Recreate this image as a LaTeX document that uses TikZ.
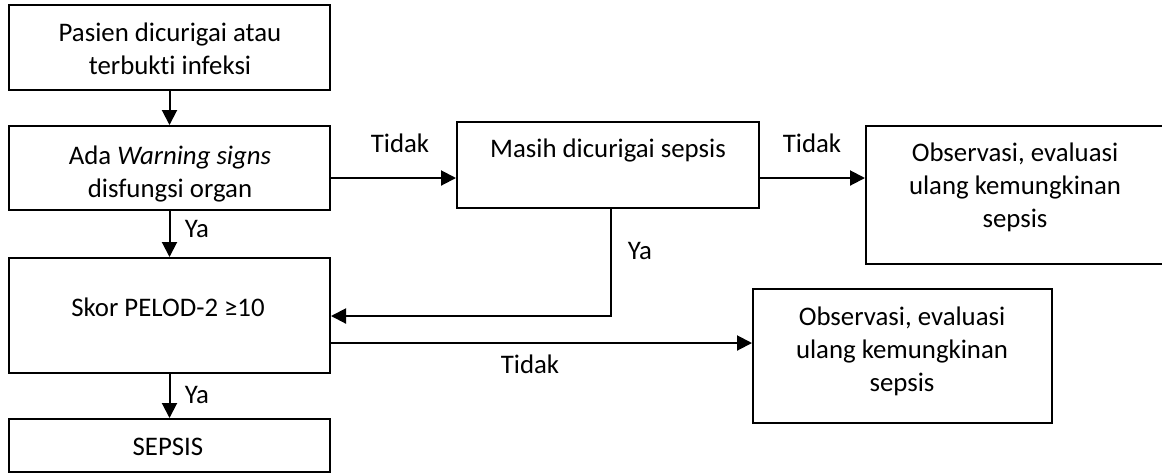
\documentclass[tikz,border=0pt]{standalone}
\usepackage{fontspec}
\setmainfont{Carlito}[Ligatures=NoCommon]
\usetikzlibrary{fit,arrows.meta}

\begin{document}
\begin{tikzpicture}
  [x=0.5pt,y=-0.5pt,
   every node/.style={font=\fontsize{13.4}{16.5}\selectfont},
   box/.style={draw,line width=1pt,inner sep=0pt},
   txt/.style={align=center,inner sep=1pt},
   arr/.style={line width=1pt,-{Triangle[length=7.5pt,width=7.5pt]}}]
  \useasboundingbox (0,0) rectangle (1162,473);
  % boxes
  \node[box,fit={(9,5) (330,90)}] (b1) {};
  \node[box,fit={(9,126) (330,210)}] (b2) {};
  \node[box,fit={(457,122) (759,208)}] (b3) {};
  \node[box,fit={(866,126) (1165,264)}] (b4) {};
  \node[box,fit={(9,258) (330,373)}] (b5) {};
  \node[box,fit={(753,289) (1052,423)}] (b6) {};
  \node[box,fit={(9,419) (330,472)}] (b7) {};
  % texts
  \node[txt] (t1) at (170,49) {Pasien dicurigai atau\\terbukti infeksi};
  \node[txt] (t2) at (170,174) {Ada \textit{Warning signs}\\disfungsi organ};
  \node[txt] (t3) at (608,150) {Masih dicurigai sepsis};
  \node[txt] (t4) at (1015,187) {Observasi, evaluasi\\ulang kemungkinan\\sepsis};
  \node[txt] (t5) at (168,307) {Skor PELOD-2 ≥10};
  \node[txt] (t6) at (902,351) {Observasi, evaluasi\\ulang kemungkinan\\sepsis};
  \node[txt] (t7) at (168,447) {SEPSIS};
  % connectors
  \coordinate (y1) at (0,178);
  \coordinate (y2) at (611,316);
  \coordinate (y3) at (0,343);
  \foreach \from/\to in {b1/b2,b2/b5,b5/b7}
    \draw[arr] (\from) -- (\to);
  \draw[arr] (b2.east |- y1) -- (b3.west |- y1);
  \draw[arr] (b3.east |- y1) -- (b4.west |- y1);
  \draw[arr] (b3.south -| y2) -- (y2) -- (b5.east |- y2);
  \draw[arr] (b5.east |- y3) -- (b6.west |- y3);
  % labels
  \node (l1) at (400,143) {Tidak};
  \node (l2) at (812,143) {Tidak};
  \node (l3) at (197,229) {Ya};
  \node (l4) at (640,251) {Ya};
  \node (l5) at (530,364) {Tidak};
  \node (l6) at (197,395) {Ya};
\end{tikzpicture}
\end{document}
